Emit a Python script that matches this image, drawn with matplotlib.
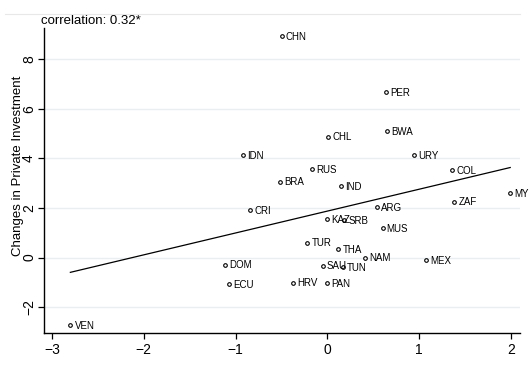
import numpy as np
import matplotlib.pyplot as plt
from matplotlib.lines import Line2D

plt.rcParams['font.family'] = ['Liberation Sans', 'DejaVu Sans']

# country codes and values
countries = ['CHN', 'PER', 'BWA', 'CHL', 'URY', 'IDN', 'RUS', 'COL', 'BRA', 'IND',
             'MYS', 'ZAF', 'ARG', 'CRI', 'KAZ', 'SRB', 'MUS', 'TUR', 'THA', 'NAM',
             'MEX', 'DOM', 'SAU', 'TUN', 'HRV', 'ECU', 'PAN', 'VEN']
x_vals = [-0.50, 0.64, 0.65, 0.01, 0.94, -0.92, -0.17, 1.36, -0.52, 0.15,
          1.99, 1.38, 0.54, -0.84, 0.00, 0.18, 0.60, -0.22, 0.12, 0.41,
          1.07, -1.12, -0.05, 0.17, -0.37, -1.07, 0.00, -2.80]
y_vals = [8.93, 6.68, 5.11, 4.88, 4.14, 4.12, 3.58, 3.53, 3.06, 2.87,
          2.60, 2.25, 2.04, 1.90, 1.54, 1.50, 1.18, 0.60, 0.35, 0.00,
          -0.09, -0.28, -0.33, -0.38, -1.01, -1.06, -1.03, -2.71]
x_ticks = [-3, -2, -1, 0, 1, 2]
y_ticks = [-2, 0, 2, 4, 6, 8]
corr_text = 'correlation: 0.32*'

x = np.array(x_vals)
y = np.array(y_vals)

fig = plt.figure(figsize=(5.29, 3.68), dpi=100)
ax = fig.add_axes([0.0832, 0.0951, 0.9, 0.829])

ax.set_xlim(-3.087, 2.098)
ax.set_ylim(-3.04, 9.26)

# grid lines
for t in y_ticks:
    ax.axhline(t, color='#eaeef0', lw=1, zorder=0)

# linear fit
slope, intercept = np.polyfit(x, y, 1)
xs = np.array([x.min(), x.max()])
ax.plot(xs, intercept + slope * xs, color='black', lw=0.9, zorder=2)

ax.plot(x, y, 'o', ms=2.6, mfc='white', mec='black', mew=0.8, zorder=3)
for name, xi, yi in zip(countries, x, y):
    ax.annotate(name, (xi, yi), xytext=(3.0, -0.5), textcoords='offset points',
                fontsize=7, va='center', ha='left', zorder=4)

ax.set_xticks(x_ticks)
ax.set_yticks(y_ticks)
ax.tick_params(axis='both', direction='out', length=4, width=0.9, labelsize=10)
ax.tick_params(axis='x', pad=3)
ax.tick_params(axis='y', pad=6.8)
for lab in ax.get_yticklabels():
    lab.set_rotation(90)
    lab.set_va('center')
    lab.set_ha('center')

for s in ['top', 'right']:
    ax.spines[s].set_visible(False)
ax.spines['left'].set_linewidth(1)
ax.spines['bottom'].set_linewidth(1)

ax.set_ylabel('Changes in Private Investment', fontsize=9.5)
ax.yaxis.set_label_coords(-0.043, 0.548)

fig.text(0.0775, 0.943, corr_text, fontsize=9.5, ha='left', va='center')
fig.add_artist(Line2D([0.01, 0.983], [0.962, 0.962], color='#e8e8e8', lw=0.8))

fig.savefig('out.png', dpi=100)
